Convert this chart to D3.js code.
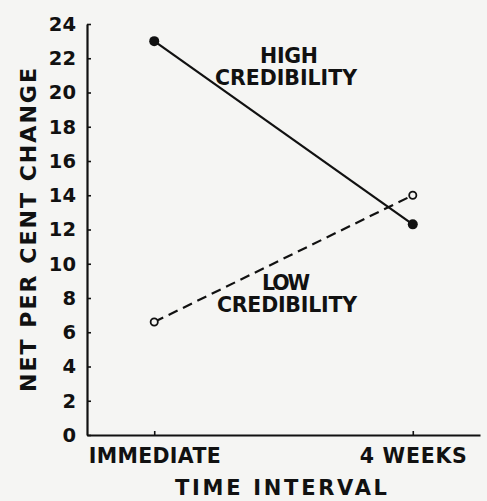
<!DOCTYPE html>
<html>
<head>
<meta charset="utf-8">
<script src="https://cdn.jsdelivr.net/npm/d3@7"></script>
<style>
  html, body { margin: 0; padding: 0; background: #f5f5f3; }
  svg { display: block; }
  text { font-family: "DejaVu Sans", sans-serif; fill: #111; font-weight: bold; }
</style>
</head>
<body>
<svg id="chart" width="487" height="501"></svg>
<script>
const categories = ["IMMEDIATE", "4 WEEKS"];
const highCredibility = [23.0, 12.3];
const lowCredibility = [6.6, 14.0];
const yTicks = [0, 2, 4, 6, 8, 10, 12, 14, 16, 18, 20, 22, 24];

const svg = d3.select("#chart");
const x = d3.scalePoint().domain(categories).range([87, 480]).padding(0.26);
const y = d3.scaleLinear().domain([0, 24]).range([435, 24]);

// Y axis
const yAxis = svg.append("g").attr("transform", "translate(87,0)")
  .call(d3.axisLeft(y).tickValues(yTicks).tickSize(-4).tickSizeOuter(0).tickPadding(11));
yAxis.select(".domain").attr("stroke", "#111").attr("stroke-width", 2.2);
yAxis.selectAll(".tick line").attr("stroke", "#111").attr("stroke-width", 1.6);
yAxis.selectAll("text").style("font-size", "19.5px").attr("fill", "#111")
  .style("font-family", "DejaVu Sans, sans-serif").style("font-weight", "bold");

// X axis
const xLabelWidths = [132, 107];
const xAxis = svg.append("g").attr("transform", "translate(0,435)")
  .call(d3.axisBottom(x).tickSize(-4).tickSizeOuter(0).tickPadding(13));
xAxis.select(".domain").attr("stroke", "#111").attr("stroke-width", 2.2);
xAxis.selectAll(".tick line").attr("stroke", "#111").attr("stroke-width", 1.6);
xAxis.selectAll("text").style("font-size", "20.5px").attr("fill", "#111")
  .style("font-family", "DejaVu Sans, sans-serif").style("font-weight", "bold")
  .attr("textLength", (d, i) => xLabelWidths[i]).attr("lengthAdjust", "spacing");

// Axis titles
svg.append("text").attr("x", 281).attr("y", 495).attr("text-anchor", "middle")
  .style("font-size", "21px").attr("textLength", 212).attr("lengthAdjust", "spacing")
  .text("TIME INTERVAL");
svg.append("text").attr("transform", "translate(36,230) rotate(-90)")
  .attr("text-anchor", "middle").style("font-size", "22px")
  .attr("textLength", 324).attr("lengthAdjust", "spacing")
  .text("NET PER CENT CHANGE");

// Lines
const line = d3.line().x((d, i) => x(categories[i])).y(d => y(d));
svg.append("path").datum(highCredibility).attr("d", line)
  .attr("fill", "none").attr("stroke", "#111").attr("stroke-width", 2.2);
svg.append("path").datum(lowCredibility).attr("d", line)
  .attr("fill", "none").attr("stroke", "#111").attr("stroke-width", 2.2)
  .attr("stroke-dasharray", "10,6");

// Markers
svg.selectAll(".hi").data(highCredibility).enter().append("circle")
  .attr("cx", (d, i) => x(categories[i])).attr("cy", d => y(d)).attr("r", 5)
  .attr("fill", "#111");
svg.selectAll(".lo").data(lowCredibility).enter().append("circle")
  .attr("cx", (d, i) => x(categories[i])).attr("cy", d => y(d)).attr("r", 3.6)
  .attr("fill", "#f5f5f3").attr("stroke", "#111").attr("stroke-width", 1.8);

// Series labels
function label(lines, cx, baselines, widths) {
  lines.forEach((t, i) => {
    svg.append("text").attr("x", cx[i]).attr("y", baselines[i]).attr("text-anchor", "middle")
      .style("font-size", "20.5px").attr("textLength", widths[i]).attr("lengthAdjust", "spacing")
      .text(t);
  });
}
label(["HIGH", "CREDIBILITY"], [289, 286], [63, 85], [58, 142]);
label(["LOW", "CREDIBILITY"], [286, 287], [290, 312], [48, 140]);
</script>
</body>
</html>
